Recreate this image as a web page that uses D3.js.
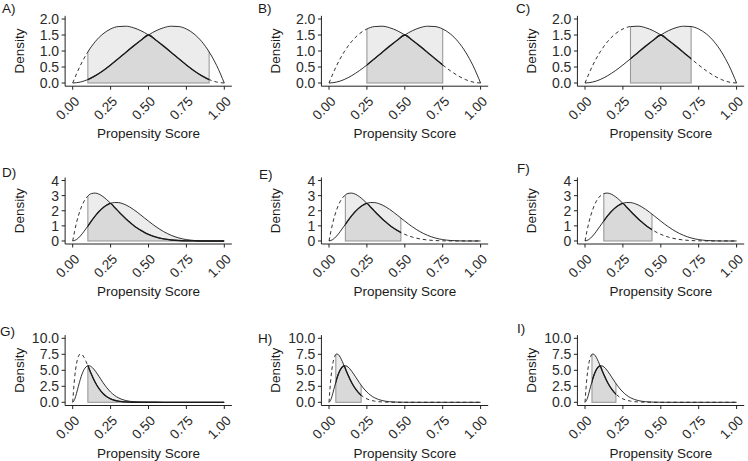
<!DOCTYPE html>
<html><head><meta charset="utf-8">
<script src="https://cdn.jsdelivr.net/npm/d3@7"></script>
<style>
body{margin:0;background:#fff}
svg{display:block}
text{font-family:"Liberation Sans",Arial,Helvetica,sans-serif}
</style>
</head><body>
<svg id="chart" width="748" height="461"></svg>
<script>
// ---------- data ----------
// Row 1 (panels A-C)
const xRow1 = [0,0.05,0.1,0.15,0.2,0.25,0.3,0.35,0.4,0.45,0.5,0.55,0.6,0.65,0.7,0.75,0.8,0.85,0.9,0.95,1];
const dashedRow1 = [0,0.542,0.972,1.301,1.536,1.688,1.764,1.775,1.728,1.634,1.5,1.337,1.152,0.956,0.756,0.563,0.384,0.230,0.108,0.029,0];
const solidRow1  = [0,0.029,0.108,0.230,0.384,0.563,0.756,0.956,1.152,1.337,1.5,1.634,1.728,1.775,1.764,1.688,1.536,1.301,0.972,0.542,0];
// Row 2 (panels D-F)
const xRow2 = [0,0.025,0.05,0.075,0.1,0.125,0.15,0.175,0.2,0.225,0.25,0.275,0.3,0.325,0.35,0.375,0.4,0.425,0.45,0.475,0.5,0.55,0.6,0.65,0.7,0.75,0.8,0.85,0.9,0.95,1];
const dashedRow2 = [0,1.203,2.058,2.631,2.976,3.142,3.168,3.090,2.936,2.730,2.492,2.236,1.977,1.722,1.478,1.252,1.045,0.861,0.698,0.557,0.438,0.256,0.138,0.067,0.029,0.010,0.003,0.001,0,0,0];
const solidRow2  = [0,0.093,0.325,0.640,0.992,1.346,1.677,1.966,2.202,2.378,2.492,2.545,2.541,2.487,2.388,2.253,2.090,1.908,1.712,1.512,1.313,0.938,0.619,0.373,0.200,0.092,0.034,0.009,0.001,0,0];
// Row 3 (panels G-I)
const xRow3 = [0,0.0125,0.025,0.0375,0.05,0.0625,0.075,0.0875,0.1,0.1125,0.125,0.1375,0.15,0.175,0.2,0.225,0.25,0.275,0.3,0.325,0.35,0.375,0.4,0.45,0.5,0.6,0.7,0.8,0.9,1];
const dashedRow3 = [0,3.788,6.023,7.162,7.547,7.433,7.005,6.397,5.703,4.988,4.294,3.646,3.058,2.085,1.369,0.869,0.536,0.320,0.186,0.105,0.057,0.030,0.015,0.004,0.001,0,0,0,0,0];
const solidRow3  = [0,0.432,1.390,2.511,3.575,4.460,5.112,5.521,5.703,5.691,5.521,5.231,4.857,3.980,3.081,2.272,1.607,1.093,0.716,0.453,0.277,0.163,0.093,0.027,0.007,0,0,0,0,0];

const panelLabels = ["A)","B)","C)","D)","E)","F)","G)","H)","I)"];
const regionLo = [0.1,0.25,0.3,0.1,0.108,0.124,0.1,0.045,0.046];
const regionHi = [0.9,0.75,0.7,1.0,0.474,0.442,1.0,0.212,0.204];

const xTicks = [0,0.25,0.5,0.75,1];
const xTickLabels = ["0.00","0.25","0.50","0.75","1.00"];
const yTicksRow1 = [0,0.5,1,1.5,2];
const yTickLabelsRow1 = ["0.0","0.5","1.0","1.5","2.0"];
const yTicksRow2 = [0,1,2,3,4];
const yTickLabelsRow2 = ["0","1","2","3","4"];
const yTicksRow3 = [0,2.5,5,7.5,10];
const yTickLabelsRow3 = ["0.0","2.5","5.0","7.5","10.0"];

const xTitle = "Propensity Score";
const yTitle = "Density";

// ---------- layout ----------
const rows = [
  {xs:xRow1, dashed:dashedRow1, solid:solidRow1, yDom:[-0.1,2.1], yPix:[86.2,15.8], ticks:yTicksRow1, tickLabels:yTickLabelsRow1},
  {xs:xRow2, dashed:dashedRow2, solid:solidRow2, yDom:[-0.2,4.2], yPix:[244,177.5], ticks:yTicksRow2, tickLabels:yTickLabelsRow2},
  {xs:xRow3, dashed:dashedRow3, solid:solidRow3, yDom:[-0.5,10.5], yPix:[405.5,335.1], ticks:yTicksRow3, tickLabels:yTickLabelsRow3}
];
const colZero = [72.7, 329, 585];
const unitW = 151.6;
const labelPos = [[2,13],[258,13],[516,13],[2,177],[259,179],[517,173],[0,336],[258,343],[517,333]];

const svg = d3.select("#chart");
const defs = svg.append("defs");

const LIGHT = "#ececec", DARK = "#d9d9d9", EDGE = "#9a9a9a", INK = "#1a1a1a";

for (let p = 0; p < 9; p++) {
  const r = Math.floor(p / 3), c = p % 3;
  const R = rows[r];
  const x = d3.scaleLinear().domain([-0.05, 1.05]).range([colZero[c] - 0.05*unitW, colZero[c] + 1.05*unitW]);
  const y = d3.scaleLinear().domain(R.yDom).range(R.yPix);
  const pts = R.xs.map((v,i)=>({x:v, d:R.dashed[i], s:R.solid[i], hi:Math.max(R.dashed[i],R.solid[i]), lo:Math.min(R.dashed[i],R.solid[i])}));
  const lo = regionLo[p], hi = regionHi[p];
  const g = svg.append("g");
  const y0 = y(0);
  const top = y(R.yDom[1]);

  const areaHi = d3.area().x(d=>x(d.x)).y0(y0+1.5).y1(d=>y(d.hi)).curve(d3.curveMonotoneX);
  const areaLo = d3.area().x(d=>x(d.x)).y0(y0+1.5).y1(d=>y(d.lo)).curve(d3.curveMonotoneX);
  defs.append("clipPath").attr("id","chi"+p).append("path").attr("d", areaHi(pts));
  defs.append("clipPath").attr("id","clo"+p).append("path").attr("d", areaLo(pts));
  defs.append("clipPath").attr("id","cin"+p).append("rect")
    .attr("x", x(lo)).attr("y", top-5).attr("width", x(hi)-x(lo)).attr("height", y0-top+10);
  const cout = defs.append("clipPath").attr("id","cout"+p);
  cout.append("rect").attr("x", x(-0.05)).attr("y", top-5).attr("width", x(lo)-x(-0.05)).attr("height", y0-top+10);
  cout.append("rect").attr("x", x(hi)).attr("y", top-5).attr("width", x(1.05)-x(hi)).attr("height", y0-top+10);

  g.append("rect").attr("x", x(lo)).attr("y", top).attr("width", x(hi)-x(lo)).attr("height", y0-top)
    .attr("fill", LIGHT).attr("clip-path", `url(#chi${p})`);
  g.append("rect").attr("x", x(lo)).attr("y", top).attr("width", x(hi)-x(lo)).attr("height", y0-top)
    .attr("fill", DARK).attr("clip-path", `url(#clo${p})`);
  g.append("rect").attr("x", x(lo)).attr("y", top).attr("width", x(hi)-x(lo)).attr("height", y0-top)
    .attr("fill", "none").attr("stroke", EDGE).attr("stroke-width", 1.1).attr("clip-path", `url(#chi${p})`);

  const lineS = d3.line().x(d=>x(d.x)).y(d=>y(d.s)).curve(d3.curveMonotoneX);
  const lineD = d3.line().x(d=>x(d.x)).y(d=>y(d.d)).curve(d3.curveMonotoneX);
  const lineLo = d3.line().x(d=>x(d.x)).y(d=>y(d.lo)).curve(d3.curveMonotoneX);
  g.append("path").attr("d", lineS(pts)).attr("fill","none").attr("stroke", INK).attr("stroke-width", 0.9);
  g.append("path").attr("d", lineD(pts)).attr("fill","none").attr("stroke", INK).attr("stroke-width", 0.9)
    .attr("stroke-dasharray","3.5,3").attr("clip-path", `url(#cout${p})`);
  g.append("path").attr("d", lineD(pts)).attr("fill","none").attr("stroke", INK).attr("stroke-width", 0.9)
    .attr("clip-path", `url(#cin${p})`);
  g.append("path").attr("d", lineLo(pts)).attr("fill","none").attr("stroke", INK).attr("stroke-width", 1.35)
    .attr("clip-path", `url(#cin${p})`);

  const axX = x(-0.05), axY = y(R.yDom[0]);
  g.append("line").attr("x1", axX).attr("x2", axX).attr("y1", axY).attr("y2", top).attr("stroke", "#222").attr("stroke-width", 1);
  g.append("line").attr("x1", axX).attr("x2", x(1.05)).attr("y1", axY).attr("y2", axY).attr("stroke", "#222").attr("stroke-width", 1);
  R.ticks.forEach((t,i)=>{
    g.append("line").attr("x1", axX-3.5).attr("x2", axX).attr("y1", y(t)).attr("y2", y(t)).attr("stroke","#222");
    g.append("text").attr("x", axX-6).attr("y", y(t)).attr("dy","0.36em").attr("text-anchor","end")
      .attr("font-size", 14).attr("fill","#2b2b2b").text(R.tickLabels[i]);
  });
  xTicks.forEach((t,i)=>{
    g.append("line").attr("x1", x(t)).attr("x2", x(t)).attr("y1", axY).attr("y2", axY+3.5).attr("stroke","#222");
    g.append("text").attr("transform", `translate(${x(t)+7.5},${axY+16}) rotate(-45)`).attr("text-anchor","end")
      .attr("font-size", 13.5).attr("fill","#2b2b2b").text(xTickLabels[i]);
  });
  g.append("text").attr("x", x(0.5)).attr("y", axY+52).attr("text-anchor","middle")
    .attr("font-size", 13.5).attr("fill", INK).text(xTitle);
  g.append("text").attr("transform", `translate(${axX-41},${(axY+top)/2}) rotate(-90)`).attr("text-anchor","middle")
    .attr("font-size", 13.5).attr("fill", INK).text(yTitle);
  svg.append("text").attr("x", labelPos[p][0]).attr("y", labelPos[p][1]).attr("font-size", 13.5)
    .attr("fill", INK).text(panelLabels[p]);
}
</script>
</body></html>
